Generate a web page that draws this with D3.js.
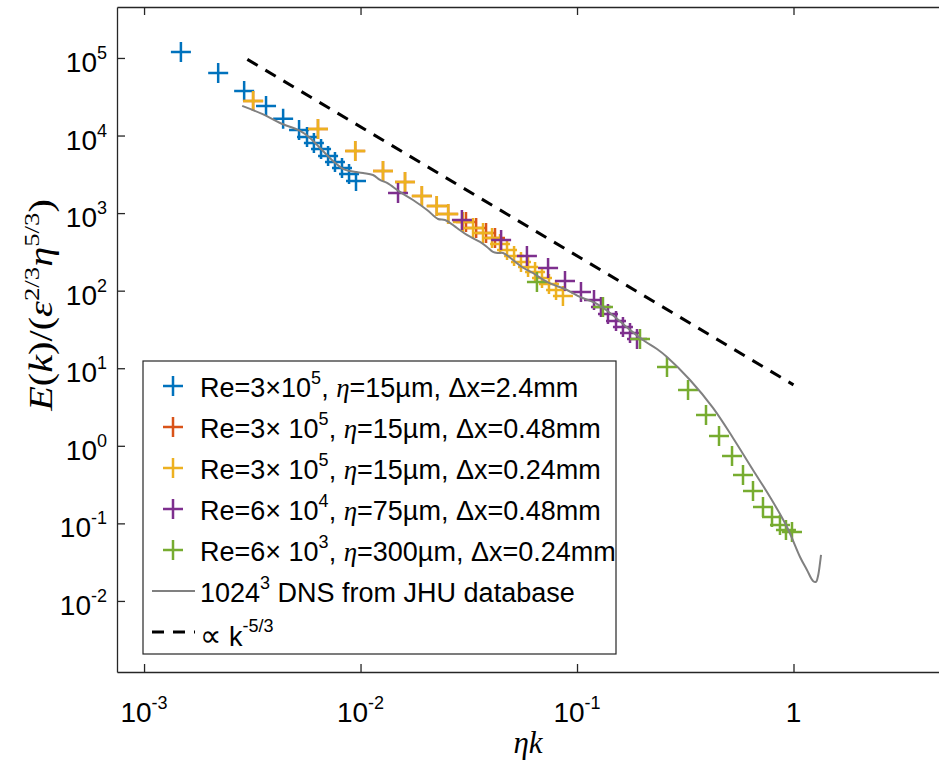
<!DOCTYPE html>
<html>
<head>
<meta charset="utf-8">
<script src="https://cdn.jsdelivr.net/npm/d3@7"></script>
<style>
body { margin: 0; background: #fff; }
text { font-family: "Liberation Sans", Arial, Helvetica, sans-serif; fill: #000; }
.tex { font-family: "Liberation Serif", "Times New Roman", serif; font-style: italic; }
</style>
</head>
<body>
<div id="chart"></div>
<script>
// spectra: eta*k  vs  E(k)/(eps^2/3 eta^5/3)
var blueK = [1.48e-3, 2.2e-3, 2.9e-3, 3.66e-3, 4.39e-3, 5.2e-3, 5.66e-3, 6.09e-3, 6.57e-3, 7.08e-3, 7.62e-3, 8.21e-3, 8.85e-3, 9.53e-3];
var blueE = [1.19e5, 6.4e4, 3.76e4, 2.4e4, 1.64e4, 1.18e4, 9.6e3, 8.0e3, 6.7e3, 5.45e3, 4.56e3, 3.82e3, 3.2e3, 2.6e3];

var orangeK = [3.19e-3, 6.36e-3, 9.45e-3, 1.27e-2, 1.605e-2, 1.92e-2, 2.25e-2, 2.54e-2, 3.07e-2, 3.42e-2, 3.80e-2, 4.18e-2];
var orangeE = [2.79e4, 1.215e4, 6.33e3, 3.49e3, 2.52e3, 1.66e3, 1.235e3, 975, 769, 643, 554, 478];

var yellowK = [3.19e-3, 6.36e-3, 9.45e-3, 1.27e-2, 1.605e-2, 1.92e-2, 2.25e-2, 2.54e-2, 2.97e-2, 3.31e-2, 3.68e-2, 4.05e-2, 4.41e-2, 4.75e-2, 5.12e-2, 5.51e-2, 5.94e-2, 6.40e-2, 6.89e-2, 7.42e-2, 8.00e-2, 8.61e-2];
var yellowE = [2.79e4, 1.215e4, 6.33e3, 3.49e3, 2.52e3, 1.66e3, 1.235e3, 975, 769, 643, 554, 478, 400, 335, 280, 234, 202, 174, 146, 122, 102, 85.5];

var purpleK = [1.49e-2, 2.94e-2, 4.46e-2, 5.87e-2, 7.35e-2, 8.80e-2, 0.1043, 0.1198, 0.129, 0.139, 0.1514, 0.163, 0.1757, 0.1893];
var purpleE = [1.82e3, 816, 451, 280, 196, 133, 96.2, 75.9, 61.7, 50.1, 40.7, 34.1, 28.5, 23.9];

var greenK = [6.53e-2, 0.1318, 0.1954, 0.2604, 0.3257, 0.3943, 0.4528, 0.520, 0.5844, 0.650, 0.7228, 0.7957, 0.866, 0.923, 0.984];
var greenE = [129.5, 61.7, 23.9, 10.4, 5.25, 2.50, 1.34, 0.74, 0.421, 0.262, 0.163, 0.121, 0.0955, 0.0822, 0.0775];

// 1024^3 DNS (JHU)
var dnsK = [2.84e-3, 3.51e-3, 4.25e-3, 5.26e-3, 5.84e-3, 6.50e-3, 7.46e-3, 8.30e-3, 8.94e-3, 1.027e-2,
            1.142e-2, 1.230e-2, 1.326e-2, 1.522e-2, 1.748e-2, 2.03e-2, 2.28e-2, 2.457e-2, 2.79e-2, 3.10e-2,
            3.565e-2, 3.84e-2, 4.09e-2, 4.315e-2, 4.55e-2, 5.06e-2, 5.57e-2, 6.26e-2, 7.27e-2, 8.99e-2,
            0.1032, 0.1211, 0.1421, 0.1757, 0.2017, 0.2341, 0.2604, 0.3327, 0.4248, 0.5255,
            0.650, 0.779, 0.933, 1.072, 1.154, 1.231, 1.270, 1.298, 1.326, 1.340];
var dnsE = [2.41e4, 1.90e4, 1.452e4, 1.145e4, 9.31e3, 6.92e3, 4.70e3, 3.71e3, 3.49e3, 3.29e3,
            3.10e3, 2.675e3, 2.447e3, 1.873e3, 1.477e3, 1.098e3, 840, 816, 643, 523,
            425, 366, 315.5, 306, 306, 249, 202, 169, 129.5, 102,
            83, 69.4, 51.6, 31.2, 23.1, 17.7, 13.98, 7.06, 3.08, 1.262,
            0.488, 0.219, 0.0899, 0.0369, 0.0251, 0.0181, 0.0176, 0.0210, 0.0309, 0.0392];

// k^-5/3 reference, end points
var dashK = [3.0e-3, 1.0];
var dashE = [9.6e4, 6.1];

var xTicks = [1e-3, 1e-2, 1e-1, 1];
var xTickExp = ["-3", "-2", "-1", null];
var yTicks = [1e-2, 1e-1, 1e0, 1e1, 1e2, 1e3, 1e4, 1e5];
var yTickExp = ["-2", "-1", "0", "1", "2", "3", "4", "5"];

var seriesNames = ["blue", "orange", "yellow", "purple", "green"];
var seriesColors = ["#0072BD", "#D95319", "#EDB120", "#7E2F8E", "#77AC30"];
var legendRe = ["3\u00d710", "3\u00d7 10", "3\u00d7 10", "6\u00d7 10", "6\u00d7 10"];
var legendReExp = ["5", "5", "5", "4", "3"];
var legendRest = ["=15\u00b5m, \u0394x=2.4mm", "=15\u00b5m, \u0394x=0.48mm", "=15\u00b5m, \u0394x=0.24mm",
                  "=75\u00b5m, \u0394x=0.48mm", "=300\u00b5m, \u0394x=0.24mm"];

var width = 939, height = 761;
var margin = {top: 7, left: 117};
var plotW = 822, plotH = 665;

var svg = d3.select("#chart")
  .append("svg")
  .attr("width", width)
  .attr("height", height)
  .style("display", "block")
  .style("background", "#fff");

var g = svg.append("g")
  .attr("transform", "translate(" + margin.left + "," + margin.top + ")");

var x = d3.scaleLog().domain([7.5e-4, 4.7]).range([0, plotW]);
var y = d3.scaleLog().domain([1.213e-3, 4.54e5]).range([plotH, 0]);

g.append("clipPath").attr("id", "clip")
  .append("rect").attr("width", plotW).attr("height", plotH);

// axes, MATLAB style: ticks pointing in, right side cut off
var axisCol = "#262626";
var xb = g.append("g").attr("transform", "translate(0," + plotH + ")")
  .call(d3.axisBottom(x).tickValues(xTicks).tickSize(-8).tickSizeOuter(0).tickFormat(""));
var xt = g.append("g")
  .call(d3.axisTop(x).tickValues(xTicks).tickSize(-8).tickSizeOuter(0).tickFormat(""));
var yl = g.append("g")
  .call(d3.axisLeft(y).tickValues(yTicks).tickSize(-8).tickSizeOuter(0).tickFormat(""));
[xb, xt, yl].forEach(function(a) {
  a.selectAll("path,line").attr("stroke", axisCol).attr("stroke-width", 1.3);
});

// tick labels with superscripts
xTicks.forEach(function(v, i) {
  var t = g.append("text")
    .attr("x", x(v))
    .attr("y", plotH + 50)
    .attr("text-anchor", "middle")
    .style("font-size", "28px");
  if (xTickExp[i] === null) {
    t.text("1");
  } else {
    t.append("tspan").text("10");
    t.append("tspan").attr("dy", -13).style("font-size", "18px").text(xTickExp[i]);
  }
});
yTicks.forEach(function(v, i) {
  var t = g.append("text")
    .attr("x", -10)
    .attr("y", y(v) + 14)
    .attr("text-anchor", "end")
    .style("font-size", "28px");
  t.append("tspan").text("10");
  t.append("tspan").attr("dy", -13).style("font-size", "18px").text(yTickExp[i]);
});

// axis labels
var ylab = svg.append("text")
  .attr("class", "tex")
  .attr("transform", "translate(52,305)rotate(-90)scale(1.22,1)")
  .attr("text-anchor", "middle")
  .style("font-size", "33px");
ylab.append("tspan").text("E");
ylab.append("tspan").style("font-style", "normal").text("(");
ylab.append("tspan").text("k");
ylab.append("tspan").style("font-style", "normal").text(")/(");
ylab.append("tspan").text("\u03b5");
ylab.append("tspan").attr("dy", -13).style("font-size", "22px").style("font-style", "normal").text("2/3");
ylab.append("tspan").attr("dy", 13).text("\u03b7");
ylab.append("tspan").attr("dy", -13).style("font-size", "22px").style("font-style", "normal").text("5/3");
ylab.append("tspan").attr("dy", 13).style("font-style", "normal").text(")");

svg.append("text")
  .attr("class", "tex")
  .attr("x", margin.left + plotW / 2)
  .attr("y", 753)
  .attr("text-anchor", "middle")
  .style("font-size", "31px")
  .text("\u03b7k");

var plot = g.append("g").attr("clip-path", "url(#clip)");

var plusPath = "M-10,0H10M0,-10V10";
var allK = [blueK, orangeK, yellowK, purpleK, greenK];
var allE = [blueE, orangeE, yellowE, purpleE, greenE];

allK.forEach(function(ks, s) {
  var pts = ks.map(function(k, i) { return {k: k, e: allE[s][i]}; });
  plot.selectAll("myplus_" + seriesNames[s])
    .data(pts)
    .enter()
    .append("path")
      .attr("d", plusPath)
      .attr("transform", function(d) { return "translate(" + x(d.k) + "," + y(d.e) + ")"; })
      .attr("stroke", seriesColors[s])
      .attr("stroke-width", 2.5)
      .attr("fill", "none");
});

var line = d3.line()
  .x(function(d) { return x(d.k); })
  .y(function(d) { return y(d.e); })
  .curve(d3.curveCatmullRom.alpha(0.5));

plot.append("path")
  .datum(dnsK.map(function(k, i) { return {k: k, e: dnsE[i]}; }))
  .attr("d", line)
  .attr("fill", "none")
  .attr("stroke", "#808080")
  .attr("stroke-width", 2);

plot.append("path")
  .datum(dashK.map(function(k, i) { return {k: k, e: dashE[i]}; }))
  .attr("d", d3.line().x(function(d) { return x(d.k); }).y(function(d) { return y(d.e); }))
  .attr("fill", "none")
  .attr("stroke", "#000")
  .attr("stroke-width", 3)
  .attr("stroke-dasharray", "12,9");

// legend
var leg = svg.append("g").attr("transform", "translate(143,361)");
leg.append("rect")
  .attr("width", 473).attr("height", 293)
  .attr("fill", "#fff")
  .attr("stroke", axisCol).attr("stroke-width", 1.2);

var rowY = function(i) { return 25 + i * 41; };

seriesColors.forEach(function(c, i) {
  leg.append("path")
    .attr("d", plusPath)
    .attr("transform", "translate(30," + rowY(i) + ")")
    .attr("stroke", c).attr("stroke-width", 2.5).attr("fill", "none");
  var t = leg.append("text")
    .attr("x", 57).attr("y", rowY(i) + 11)
    .style("font-size", "27px");
  t.append("tspan").text("Re=" + legendRe[i]);
  t.append("tspan").attr("dy", -13).style("font-size", "18px").text(legendReExp[i]);
  t.append("tspan").attr("dy", 13).text(", ");
  t.append("tspan").attr("class", "tex").text("\u03b7");
  t.append("tspan").text(legendRest[i]);
});

leg.append("line")
  .attr("x1", 9).attr("x2", 52).attr("y1", rowY(5)).attr("y2", rowY(5))
  .attr("stroke", "#808080").attr("stroke-width", 2);
var t6 = leg.append("text").attr("x", 57).attr("y", rowY(5) + 11).style("font-size", "27px");
t6.append("tspan").text("1024");
t6.append("tspan").attr("dy", -13).style("font-size", "18px").text("3");
t6.append("tspan").attr("dy", 13).text(" DNS from JHU database");

leg.append("line")
  .attr("x1", 9).attr("x2", 52).attr("y1", rowY(6)).attr("y2", rowY(6))
  .attr("stroke", "#000").attr("stroke-width", 3).attr("stroke-dasharray", "12,9");
var t7 = leg.append("text").attr("x", 57).attr("y", rowY(6) + 14).style("font-size", "27px");
t7.append("tspan").style("font-family", "'DejaVu Sans', sans-serif").style("font-size", "30px").text("\u221d");
t7.append("tspan").text(" k");
t7.append("tspan").attr("dy", -14).style("font-size", "18px").text("-5/3");
</script>
</body>
</html>
